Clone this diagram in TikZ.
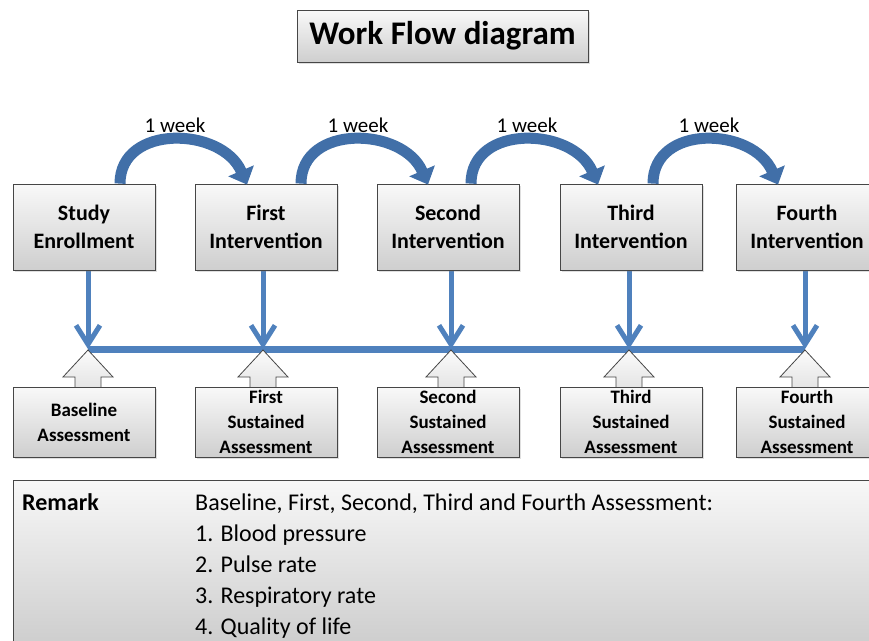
\documentclass[tikz,border=0pt]{standalone}
\usepackage{fontspec}
\setmainfont{Carlito}
\usetikzlibrary{arrows.meta,shadows,calc}
\definecolor{obl}{HTML}{4F81BD}
\definecolor{obld}{HTML}{416FA8}
\pgfdeclarelayer{background}
\pgfsetlayers{background,main}
\begin{document}
\begin{tikzpicture}[x=1pt,y=-1pt,
  gbox/.style={draw=gray!55!black, line width=0.8pt, top color=gray!5, bottom color=gray!38,
    inner sep=0pt, align=center, drop shadow={shadow xshift=1.5pt,shadow yshift=-1.5pt,opacity=0.25}},
  topbox/.style={gbox, minimum width=142pt, minimum height=86pt, font=\bfseries\fontsize{22}{28}\selectfont},
  botbox/.style={gbox, minimum width=142pt, minimum height=70pt, font=\bfseries\fontsize{19}{25}\selectfont},
  titlebox/.style={gbox, minimum width=291pt, minimum height=52pt, font=\bfseries\fontsize{33}{36}\selectfont},
  remarkbox/.style={draw=gray!55!black, line width=0.8pt, top color=gray!6, bottom color=gray!40, inner sep=0pt},
  weekarc/.style={draw=obld, line width=11pt, -{Triangle[width=27pt,length=15pt]}},
  downarr/.style={draw=obl, line width=5pt, -{Straight Barb[width=24pt,length=19pt]}},
  busline/.style={draw=obl, line width=7pt},
  blockarr/.style={draw=gray!55!black, line width=0.8pt, top color=gray!3, bottom color=gray!22},
  weeklbl/.style={font=\fontsize{21}{23}\selectfont, inner sep=0pt},
  rtext/.style={font=\fontsize{24}{28}\selectfont, anchor=base west, inner sep=0pt},
]
\useasboundingbox (0,0) rectangle (869,640);
\clip (0,0) rectangle (869,640);

% title
\node[titlebox] (title) at (442.5,36) {Work Flow diagram};

% top boxes
\node[topbox] (study) at (84,227) {Study\\Enrollment};
\node[topbox] (int1) at (266,227) {First\\Intervention};
\node[topbox] (int2) at (448,227) {Second\\Intervention};
\node[topbox] (int3) at (631,227) {Third\\Intervention};
\node[topbox] (int4) at (807,227) {Fourth\\Intervention};

% bottom boxes
\node[botbox] (b0) at (84,422) {Baseline\\Assessment};
\node[botbox] (b1) at (266,422) {First\\Sustained\\Assessment};
\node[botbox] (b2) at (448,422) {Second\\Sustained\\Assessment};
\node[botbox] (b3) at (631,422) {Third\\Sustained\\Assessment};
\node[botbox] (b4) at (807,422) {Fourth\\Sustained\\Assessment};

% junctions on the bus line
\coordinate (j0) at (88,349);
\coordinate (j1) at (263,349);
\coordinate (j2) at (451,349);
\coordinate (j3) at (629,349);
\coordinate (j4) at (805,349);

\begin{pgfonlayer}{background}
  \draw[busline] (j0) -- (j4);
  \foreach \t/\j in {study/j0,int1/j1,int2/j2,int3/j3,int4/j4}
    \draw[downarr] (\t.south -| \j) -- (\j);
  \foreach \j in {j0,j1,j2,j3,j4}
    \draw[blockarr] ([yshift=-1pt]\j) -- ++(25,27) -- ++(-12,0) -- ++(0,13) -- ++(-26,0) -- ++(0,-13) -- ++(-12,0) -- cycle;
\end{pgfonlayer}

% week arcs
\coordinate (s0) at ([xshift=36pt]study.north);
\coordinate (e0) at ([xshift=-19pt,yshift=-1pt]int1.north);
\coordinate (s1) at ([xshift=35pt]int1.north);
\coordinate (e1) at ([xshift=-20pt,yshift=-1pt]int2.north);
\coordinate (s2) at ([xshift=23pt]int2.north);
\coordinate (e2) at ([xshift=-33pt,yshift=-1pt]int3.north);
\coordinate (s3) at ([xshift=22pt]int3.north);
\coordinate (e3) at ([xshift=-29pt,yshift=-1pt]int4.north);
\foreach \s/\e in {s0/e0,s1/e1,s2/e2,s3/e3}{
  \draw[weekarc] (\s) .. controls ($(\s)+(0,-60)$) and ($(\e)+(-25,-58)$) .. (\e);
}
\node[weeklbl] (w0) at (175,125) {1 week};
\node[weeklbl] (w1) at (358,125) {1 week};
\node[weeklbl] (w2) at (527,125) {1 week};
\node[weeklbl] (w3) at (709,125) {1 week};

% remark
\node[remarkbox, minimum width=870pt, minimum height=170pt, anchor=north west] (remark) at (13,480) {};
\node[rtext, font=\bfseries\fontsize{24}{28}\selectfont] (rlab) at (22,510) {Remark};
\node[rtext] (r0) at (195,510) {Baseline, First, Second, Third and Fourth Assessment:};
\node[rtext] (r1) at (195,541) {1. Blood pressure};
\node[rtext] (r2) at (195,572) {2. Pulse rate};
\node[rtext] (r3) at (195,603) {3. Respiratory rate};
\node[rtext] (r4) at (195,634) {4. Quality of life};
\end{tikzpicture}
\end{document}
